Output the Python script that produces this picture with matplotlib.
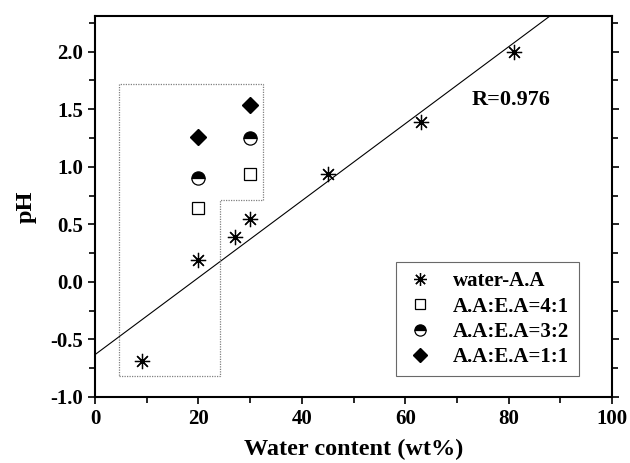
import numpy as np
import matplotlib
matplotlib.use('Agg')
from matplotlib import pyplot as plt
from matplotlib.ticker import MultipleLocator

# water-A.A series (with linear fit)
water_x = [9, 20, 27, 30, 45, 63, 81]
water_ph = [-0.69, 0.19, 0.39, 0.55, 0.94, 1.39, 2.00]

# mixed solvent series
mix_x = [20, 30]
ph_41 = [0.64, 0.94]
ph_32 = [0.90, 1.25]
ph_11 = [1.26, 1.54]

labels = ['water-A.A', 'A.A:E.A=4:1', 'A.A:E.A=3:2', 'A.A:E.A=1:1']

plt.rcParams['font.family'] = ['Liberation Serif', 'DejaVu Serif']
plt.rcParams['font.weight'] = 'bold'

fig = plt.figure(figsize=(6.3, 4.63), dpi=100)
ax = fig.add_axes([95 / 630, 66 / 463, 517 / 630, 381 / 463])

ax.plot(water_x, water_ph, linestyle='none', marker=(8, 2, 0), ms=11,
        mec='black', mew=0.9, label=labels[0])
ax.plot(mix_x, ph_41, linestyle='none', marker='s', ms=8.5, mfc='white',
        mec='black', mew=0.9, label=labels[1])
ax.plot(mix_x, ph_32, linestyle='none', marker='o', ms=9.5, fillstyle='top',
        mfc='black', markerfacecoloralt='white', mec='black', mew=0.9,
        label=labels[2])
ax.plot(mix_x, ph_11, linestyle='none', marker='D', ms=8, mfc='black',
        mec='black', label=labels[3])

# linear fit
slope, icpt = np.polyfit(water_x, water_ph, 1)
fx = np.array([0, 100])
ax.plot(fx, icpt + slope * fx, color='black', lw=0.8)
ax.text(72.8, 1.58, 'R=0.976', fontsize=16, fontweight='bold', va='center')

# dotted outline around the low-water points
box_x = [4.7, 24.1, 24.1, 32.5, 32.5, 4.7, 4.7]
box_y = [-0.82, -0.82, 0.71, 0.71, 1.72, 1.72, -0.82]
ax.plot(box_x, box_y, color='gray', lw=0.9, linestyle=(0, (1, 1)))

ax.set_xlim(0, 100)
ax.set_ylim(-1.0, 2.31)
ax.xaxis.set_major_locator(MultipleLocator(20))
ax.xaxis.set_minor_locator(MultipleLocator(10))
ax.yaxis.set_major_locator(MultipleLocator(0.5))
ax.yaxis.set_minor_locator(MultipleLocator(0.25))
ax.tick_params(which='both', direction='out', right=True, width=1.2,
               labelsize=15)
ax.tick_params(which='major', length=5)
ax.tick_params(which='minor', length=4)
ax.yaxis.set_major_formatter(lambda v, p: '%.1f' % v)
for lbl in ax.get_xticklabels() + ax.get_yticklabels():
    lbl.set_fontweight('bold')
for s in ax.spines.values():
    s.set_linewidth(1.5)

ax.set_xlabel('Water content (wt%)', fontsize=17.5, fontweight='bold', labelpad=7)
ax.set_ylabel('pH', fontsize=17.5, fontweight='bold', labelpad=10)

leg = ax.legend(loc='lower right', bbox_to_anchor=(0.936, 0.054), fontsize=15,
                frameon=True, fancybox=False, edgecolor='#444444',
                borderaxespad=0, handlelength=1.4, handletextpad=0.9,
                borderpad=0.45, labelspacing=0.25, markerscale=0.85)
leg.get_frame().set_linewidth(0.8)
for t in leg.get_texts():
    t.set_fontweight('bold')

fig.savefig('out.png', dpi=100)
